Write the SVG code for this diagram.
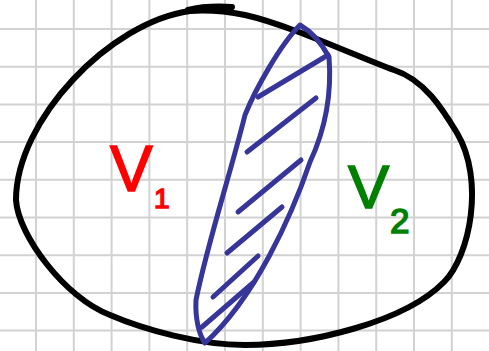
<svg xmlns="http://www.w3.org/2000/svg" width="489" height="351" viewBox="0 0 489 351">
<style>
.grid line{stroke:#d2d2d2;stroke-width:2}
.ink{fill:none;stroke-linecap:round;stroke-linejoin:round}
.blk{stroke:#000;stroke-width:6}
.blu{stroke:#35359a;stroke-width:5}
.lbl{font-family:"Liberation Sans",Arial,sans-serif}
</style>
<rect width="489" height="351" fill="#fff"/>
<g class="grid" id="grid">
<line x1="36" y1="0" x2="36" y2="351"/><line x1="73.8" y1="0" x2="73.8" y2="351"/><line x1="111.6" y1="0" x2="111.6" y2="351"/><line x1="149.4" y1="0" x2="149.4" y2="351"/><line x1="187.2" y1="0" x2="187.2" y2="351"/><line x1="225" y1="0" x2="225" y2="351"/><line x1="262.8" y1="0" x2="262.8" y2="351"/><line x1="300.6" y1="0" x2="300.6" y2="351"/><line x1="338.4" y1="0" x2="338.4" y2="351"/><line x1="376.2" y1="0" x2="376.2" y2="351"/><line x1="414" y1="0" x2="414" y2="351"/><line x1="451.8" y1="0" x2="451.8" y2="351"/>
<line x1="0" y1="29" x2="489" y2="29"/><line x1="0" y1="66.7" x2="489" y2="66.7"/><line x1="0" y1="104.4" x2="489" y2="104.4"/><line x1="0" y1="142.1" x2="489" y2="142.1"/><line x1="0" y1="179.8" x2="489" y2="179.8"/><line x1="0" y1="217.5" x2="489" y2="217.5"/><line x1="0" y1="255.2" x2="489" y2="255.2"/><line x1="0" y1="292.9" x2="489" y2="292.9"/><line x1="0" y1="330.6" x2="489" y2="330.6"/>
</g>
<g id="region">
<path class="ink blk" d="M190,11 C110,22 16,120 16,200 C18,235 65,298 110,315 C145,330 200,345 245,345 C310,345 405,322 444,282 C470,256 485,180 457,133 C443,110 425,80 394,70 C360,58 290,25 245,15 C225,11 205,10 190,11 Z"/>
<path class="ink blk" d="M188,10 C200,7 215,6 232,7" stroke-width="7"/>
</g>
<g id="cut">
<path class="ink blu" d="M300,25 C312,32 322,44 329,57 C332,95 325,130 310,162 C292,215 255,298 205,343 C199,335 195,318 196,300 C207,245 230,175 245,115 C255,90 280,45 300,25 Z"/>
<path class="ink blu" d="M328,55 L258,97 M316,98 L247,152 M301,160 L238,212 M282,207 L227,253 M258,256 L213,297 M254,282 L202,327"/>
</g>
<g id="v1">
<text class="lbl" fill="#ff0000" stroke="#ff0000" stroke-width="1.5"><tspan x="110" y="191" font-size="64">V</tspan><tspan x="154" y="208" font-size="28">1</tspan></text>
</g>
<g id="v2">
<text class="lbl" fill="#008000" stroke="#008000" stroke-width="1.5"><tspan x="348" y="208" font-size="62">V</tspan><tspan x="390" y="233" font-size="35">2</tspan></text>
</g>
</svg>
